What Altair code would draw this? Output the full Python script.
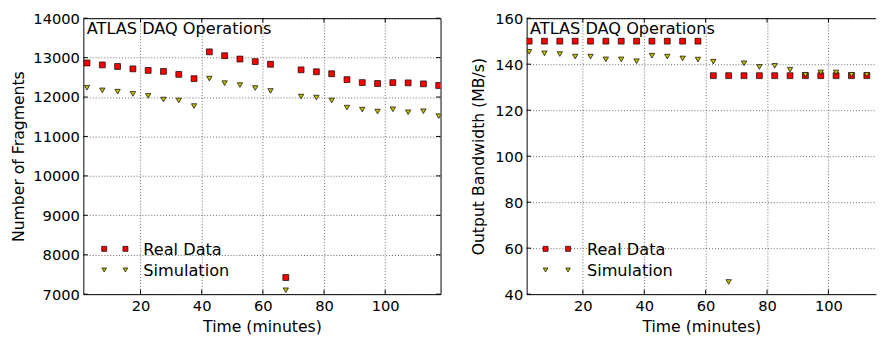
import altair as alt
import pandas as pd

# ---------------- data ----------------
times = [2.5, 7.5, 12.5, 17.5, 22.5, 27.5, 32.5, 37.5, 42.5, 47.5, 52.5, 57.5,
         62.5, 67.5, 72.5, 77.5, 82.5, 87.5, 92.5, 97.5, 102.5, 107.5, 112.5, 117.5]

frag_real = [12864, 12815, 12775, 12715, 12675, 12650, 12575, 12467, 13147, 13048, 12964, 12899,
             12832, 7422, 12690, 12640, 12591, 12442, 12367, 12343, 12367, 12360, 12335, 12293]
frag_sim = [12236, 12169, 12136, 12079, 12029, 11937, 11913, 11771, 12467, 12352, 12303, 12228,
            12154, 7099, 12012, 11987, 11913, 11731, 11681, 11632, 11689, 11614, 11640, 11515]

# right panel is cut by the picture edge after t = 112.5
bw_times = times[:23]
bw_real = [150, 150, 150, 150, 150, 150, 150, 150, 150, 150, 150, 150,
           135, 135, 135, 135, 135, 135, 135, 135, 135, 135, 135]
bw_sim = [145.4, 144.7, 144.4, 143.3, 143.3, 142.1, 142.1, 141.3, 143.7, 143.3, 142.5, 142.0,
          141.1, 45.3, 140.4, 138.8, 139.3, 137.6, 135.4, 136.4, 136.4, 135.4, 135.4]

x_ticks = [20, 40, 60, 80, 100]
frag_ticks = [7000, 8000, 9000, 10000, 11000, 12000, 13000, 14000]
bw_ticks = [40, 60, 80, 100, 120, 140, 160]

series_labels = ["Real Data", "Simulation"]
annotation = "ATLAS DAQ Operations"
x_title = "Time (minutes)"
frag_title = "Number of Fragments"
bw_title = "Output Bandwidth (MB/s)"

# ---------------- style ----------------
FONT = "DejaVu Sans"
RED = "#ff0000"
YEL = "#bfbf00"
H = 282
TICK = 4.5
TXT = 16.5


def panel(t, real, sim, y_ticks, y_dom, x_dom, y_title, W, full_frame, leg_x, text_x, ytp):
    df = pd.DataFrame({"t": t[:len(real)], "real": real, "sim": sim})
    xs = alt.Scale(domain=x_dom, nice=False, zero=False)
    ys = alt.Scale(domain=y_dom, nice=False, zero=False)
    xax = alt.Axis(values=x_ticks, title=x_title, grid=True, domain=not full_frame,
                   domainColor="black", labelPadding=5, titlePadding=5, format="d")
    yax = alt.Axis(values=y_ticks, title=y_title, grid=True, domain=not full_frame,
                   domainColor="black", labelPadding=4, titlePadding=ytp, format="d")
    X = lambda f: alt.X(f, scale=xs, axis=xax)
    Y = lambda f: alt.Y(f, scale=ys, axis=yax)
    base = alt.Chart(df)
    real_pts = base.mark_point(shape="square", filled=True, fill=RED, stroke="black",
                               strokeWidth=0.7, size=36, opacity=1, clip=True).encode(
        x=X("t:Q"), y=Y("real:Q"))
    sim_pts = base.mark_point(shape="triangle-down", filled=True, fill=YEL, stroke="black",
                              strokeWidth=0.7, size=30, opacity=1, clip=True).encode(
        x=X("t:Q"), y=Y("sim:Q"))
    xt = alt.Chart(pd.DataFrame({"v": x_ticks}))
    yt = alt.Chart(pd.DataFrame({"v": y_ticks}))
    tick_layers = [
        xt.mark_rule(color="black", strokeWidth=1).encode(
            x=X("v:Q"), y=alt.value(H), y2=alt.value(H - TICK)),
        xt.mark_rule(color="black", strokeWidth=1).encode(
            x=X("v:Q"), y=alt.value(0), y2=alt.value(TICK)),
        yt.mark_rule(color="black", strokeWidth=1).encode(
            y=Y("v:Q"), x=alt.value(0), x2=alt.value(TICK)),
    ]
    if full_frame:
        tick_layers.append(yt.mark_rule(color="black", strokeWidth=1).encode(
            y=Y("v:Q"), x=alt.value(W), x2=alt.value(W - TICK)))
    else:
        tick_layers.append(alt.Chart(pd.DataFrame({"v": [0]})).mark_rule(
            color="black", strokeWidth=1).encode(x=alt.value(0), x2=alt.value(W), y=alt.value(0.5)))

    one = alt.Chart(pd.DataFrame({"label": [annotation]}))
    title_txt = one.mark_text(align="left", baseline="alphabetic", font=FONT, fontSize=TXT,
                              color="black").encode(text="label:N", x=alt.value(3.5),
                                                    y=alt.value(15.7))
    leg_layers = []
    for lab, shape, col, sz, ym, yt_ in [(series_labels[0], "square", RED, 26, 235.7, 241.7),
                                        (series_labels[1], "triangle-down", YEL, 22, 257.3, 263.3)]:
        ld = alt.Chart(pd.DataFrame({"label": [lab]}))
        for lx in leg_x:
            leg_layers.append(ld.mark_point(shape=shape, filled=True, fill=col, stroke="black",
                                            strokeWidth=0.7, size=sz, opacity=1).encode(
                x=alt.value(lx), y=alt.value(ym)))
        leg_layers.append(ld.mark_text(align="left", baseline="alphabetic", font=FONT,
                                       fontSize=TXT, color="black").encode(
            text="label:N", x=alt.value(text_x), y=alt.value(yt_)))

    layers = [real_pts, sim_pts] + tick_layers + [title_txt] + leg_layers
    ch = alt.layer(*layers).properties(width=W, height=H)
    if not full_frame:
        ch = ch.properties(view=alt.ViewBackground(stroke="transparent"))
    return ch


left = panel(times, frag_real, frag_sim, frag_ticks, [7000, 14000], [1.3, 118.1],
             frag_title, 365, True, [21.3, 43], 61.3, 6)
right = panel(bw_times, bw_real, bw_sim, bw_ticks, [40, 160], [1.7, 115.5],
              bw_title, 357, False, [19.3, 42.3], 61.6, 8)

chart = alt.hconcat(left, right, spacing=29).resolve_scale(
    x="independent", y="independent"
).properties(
    padding={"left": 2, "top": -1.2, "right": 0, "bottom": 0},
    background="white",
).configure_view(stroke="black", strokeWidth=1).configure_axis(
    labelFont=FONT, labelFontSize=15, labelColor="black",
    titleFont=FONT, titleFontSize=16, titleFontWeight="normal", titleColor="black",
    ticks=False, gridColor="black", gridDash=[1, 2], gridOpacity=0.6, gridWidth=1,
)

chart.save("out.html", embed_options={"renderer": "svg", "actions": False})
